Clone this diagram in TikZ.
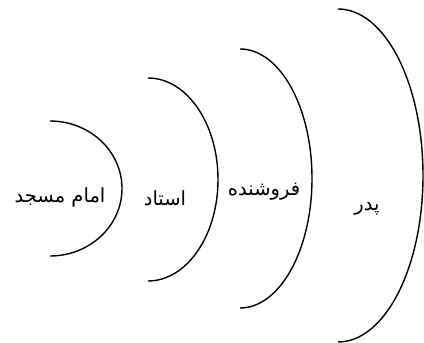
\documentclass[tikz,border=0pt]{standalone}
\usepackage{fontspec}
\TeXXeTstate=1
\newfontfamily\arabicfont[Script=Arabic]{DejaVu Sans}
\tikzset{
  ring/.style={line width=1.4pt, black},
  label/.style={font=\arabicfont\fontsize{19.5}{22}\selectfont, inner sep=0pt}
}
\begin{document}
\begin{tikzpicture}[x=1pt,y=1pt]
\useasboundingbox (0,0) rectangle (424,343);
\draw[ring] (50,222) arc[start angle=90, end angle=-90, x radius=72pt, y radius=67.5pt];
\draw[ring] (148,265) arc[start angle=90, end angle=-90, x radius=70pt, y radius=101.5pt];
\draw[ring] (240,294) arc[start angle=90, end angle=-90, x radius=72pt, y radius=129.5pt];
\draw[ring] (338,334) arc[start angle=90, end angle=-90, x radius=85pt, y radius=166.5pt];
\node[label] (imam) at (60,146) {\beginR امام مسجد\endR};
\node[label] (ostad) at (165,145) {\beginR استاد\endR};
\node[label] (forush) at (264,151) {\beginR فروشنده\endR};
\node[label] (pedar) at (367,134) {\beginR پدر\endR};
\end{tikzpicture}
\end{document}
